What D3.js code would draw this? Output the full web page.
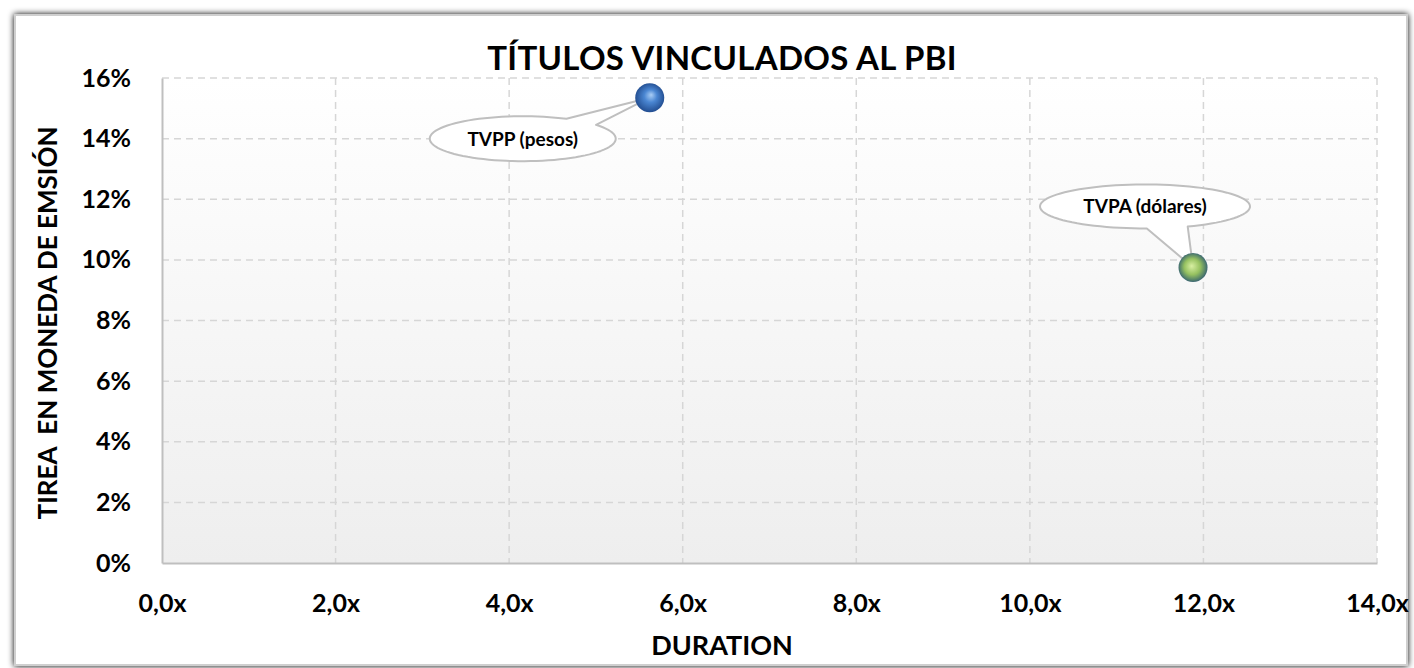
<!DOCTYPE html>
<html>
<head>
<meta charset="utf-8">
<script src="https://cdn.jsdelivr.net/npm/d3@7"></script>
<style>
  body { margin: 0; background: #fff; }
  svg { display: block; font-family: Lato, "Open Sans", sans-serif; }
</style>
</head>
<body>
<div id="chart"></div>
<script>
// data
const names = ["TVPP (pesos)", "TVPA (dólares)"];
const duration = [5.62, 11.88];
const tirea = [0.1535, 0.0975];
const xTicks = [0, 2, 4, 6, 8, 10, 12, 14];
const yTicks = [0, 0.02, 0.04, 0.06, 0.08, 0.10, 0.12, 0.14, 0.16];

const width = 1414, height = 668;
const margin = {top: 78, right: 37, bottom: 105, left: 162};

const svg = d3.select('#chart').append('svg')
    .attr('width', width)
    .attr('height', height);

const defs = svg.append('defs');

// chart frame with soft shadow
const shadow = defs.append('filter').attr('id', 'shadow')
    .attr('x', '-2%').attr('y', '-2%').attr('width', '104%').attr('height', '104%');
shadow.append('feGaussianBlur').attr('in', 'SourceAlpha').attr('stdDeviation', 3);
shadow.append('feOffset').attr('dx', 0).attr('dy', 0).attr('result', 'b');
const merge = shadow.append('feMerge');
merge.append('feMergeNode').attr('in', 'b');
merge.append('feMergeNode').attr('in', 'SourceGraphic');

svg.append('rect')
    .attr('x', 15).attr('y', 15)
    .attr('width', 1392).attr('height', 650)
    .attr('fill', '#fff')
    .attr('stroke', '#cfcfcf')
    .attr('stroke-width', 2)
    .attr('filter', 'url(#shadow)');

const plotGrad = defs.append('linearGradient').attr('id', 'plotBg')
    .attr('x1', 0).attr('y1', 0).attr('x2', 0).attr('y2', 1);
plotGrad.append('stop').attr('offset', '0%').attr('stop-color', '#ffffff');
plotGrad.append('stop').attr('offset', '100%').attr('stop-color', '#eeeeee');

const x = d3.scaleLinear().domain([0, 14]).range([margin.left, width - margin.right]);
const y = d3.scaleLinear().domain([0, 0.16]).range([height - margin.bottom, margin.top]);

svg.append('rect')
    .attr('x', x(0)).attr('y', y(0.16))
    .attr('width', x(14) - x(0)).attr('height', y(0) - y(0.16))
    .attr('fill', 'url(#plotBg)');

// gridlines
const grid = svg.append('g');
grid.selectAll('.gx').data(xTicks.filter(d => d > 0)).join('line')
    .attr('x1', d => x(d)).attr('x2', d => x(d))
    .attr('y1', y(0.16)).attr('y2', y(0))
    .attr('stroke', '#d6d6d6').attr('stroke-width', 1.5)
    .attr('stroke-dasharray', '7,5');
grid.selectAll('.gy').data(yTicks.filter(d => d > 0)).join('line')
    .attr('x1', x(0)).attr('x2', x(14))
    .attr('y1', d => y(d)).attr('y2', d => y(d))
    .attr('stroke', '#d6d6d6').attr('stroke-width', 1.5)
    .attr('stroke-dasharray', '7,5');

// axes
const fmtX = d => d3.format('.1f')(d).replace('.', ',') + 'x';
const fmtY = d => Math.round(d * 100) + '%';

const xAxis = svg.append('g')
    .attr('transform', `translate(0,${y(0)})`)
    .call(d3.axisBottom(x).tickValues(xTicks).tickFormat(fmtX).tickSize(0).tickPadding(31));
xAxis.select('.domain').attr('stroke', '#bfbfbf').attr('stroke-width', 2);

const yAxis = svg.append('g')
    .attr('transform', `translate(${x(0)},0)`)
    .call(d3.axisLeft(y).tickValues(yTicks).tickFormat(fmtY).tickSize(0).tickPadding(31));
yAxis.select('.domain').attr('stroke', '#bfbfbf').attr('stroke-width', 2);

svg.selectAll('.tick text')
    .attr('font-family', 'Lato, "Open Sans", sans-serif')
    .attr('font-size', 25)
    .attr('font-weight', 'bold')
    .attr('fill', '#000');

// titles
svg.append('text')
    .attr('x', 722).attr('y', 70)
    .attr('text-anchor', 'middle')
    .attr('font-size', 33).attr('font-weight', 'bold')
    .attr('letter-spacing', 0.3)
    .text('TÍTULOS VINCULADOS AL PBI');

svg.append('text')
    .attr('x', 722).attr('y', 655)
    .attr('text-anchor', 'middle')
    .attr('font-size', 27).attr('font-weight', 'bold')
    .text('DURATION');

svg.append('text')
    .attr('transform', 'translate(57,323) rotate(-90)')
    .attr('text-anchor', 'middle')
    .attr('font-size', 26).attr('font-weight', 'bold')
    .style('white-space', 'pre')
    .text('TIREA  EN MONEDA DE EMSIÓN');

// sphere gradients
const blue = defs.append('radialGradient').attr('id', 'ball0')
    .attr('cx', '50%').attr('cy', '50%').attr('r', '55%').attr('fx', '55%').attr('fy', '40%');
blue.append('stop').attr('offset', '0%').attr('stop-color', '#a9cdf5');
blue.append('stop').attr('offset', '40%').attr('stop-color', '#4a86d2');
blue.append('stop').attr('offset', '100%').attr('stop-color', '#1d4688');

const green = defs.append('radialGradient').attr('id', 'ball1')
    .attr('cx', '50%').attr('cy', '50%').attr('r', '55%').attr('fx', '45%').attr('fy', '45%');
green.append('stop').attr('offset', '0%').attr('stop-color', '#d8efa2');
green.append('stop').attr('offset', '50%').attr('stop-color', '#96c160');
green.append('stop').attr('offset', '78%').attr('stop-color', '#5a8768');
green.append('stop').attr('offset', '100%').attr('stop-color', '#2a5478');

// callout bubbles (ellipse offset from the point, pointer base angles in degrees)
const callouts = [
    {dx: -127, dy: 41, rx: 93, ry: 22.5, base: [38, 62]},
    {dx: -48, dy: -61, rx: 105, ry: 22, base: [-89, -66]}
];

const pts = names.map((n, i) => ({name: n, x: x(duration[i]), y: y(tirea[i]), c: callouts[i], i}));

const bubble = svg.append('g').selectAll('g').data(pts).join('g');

bubble.each(function(d) {
    const g = d3.select(this);
    const cx = d.x + d.c.dx, cy = d.y + d.c.dy;
    const a1 = d.c.base[0] * Math.PI / 180, a2 = d.c.base[1] * Math.PI / 180;
    const p2 = [cx + d.c.rx * Math.cos(a2), cy - d.c.ry * Math.sin(a2)];
    const shape = d3.path();
    const steps = 90;
    const start = a2, end = a1 + 2 * Math.PI;
    shape.moveTo(d.x, d.y);
    shape.lineTo(p2[0], p2[1]);
    for (let k = 1; k <= steps; k++) {
        const t = start + (end - start) * k / steps;
        shape.lineTo(cx + d.c.rx * Math.cos(t), cy - d.c.ry * Math.sin(t));
    }
    shape.closePath();
    g.append('path')
        .attr('d', shape.toString())
        .attr('fill', '#fff')
        .attr('stroke', '#bfbfbf')
        .attr('stroke-width', 2)
        .attr('stroke-linejoin', 'round');
    g.append('text')
        .attr('x', cx).attr('y', cy + 7)
        .attr('text-anchor', 'middle')
        .attr('font-size', 19).attr('font-weight', 'bold')
        .text(d.name);
});

svg.append('g').selectAll('circle').data(pts).join('circle')
    .attr('cx', d => d.x).attr('cy', d => d.y)
    .attr('r', 14.5)
    .attr('fill', d => `url(#ball${d.i})`);
</script>
</body>
</html>
